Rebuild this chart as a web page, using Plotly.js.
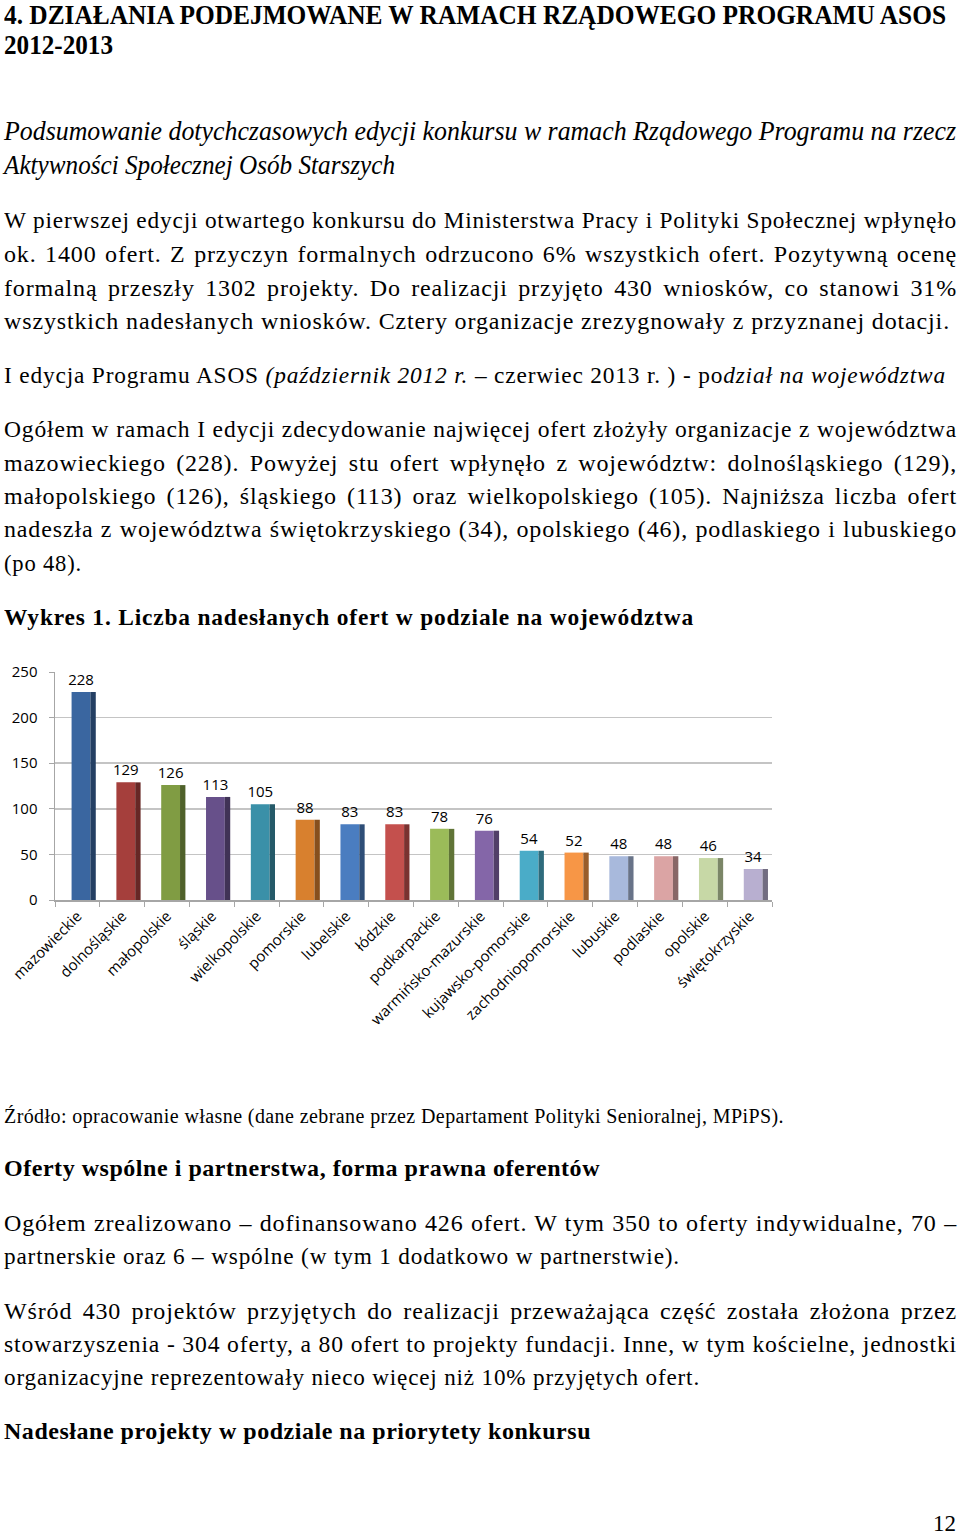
<!DOCTYPE html>
<html>
<head>
<meta charset="utf-8">
<script src="https://cdn.plot.ly/plotly-3.0.1.min.js"></script>
<style>
  html, body { margin:0; padding:0; background:#fff; }
  #page { position:relative; width:960px; height:1537px; overflow:hidden; background:#fff; }
  .ln { position:absolute; white-space:nowrap; line-height:1; color:#000;
        font-family:"Liberation Serif","Times New Roman",serif; transform-origin:0 0; display:inline-block; }
  .b { font-weight:bold; }
  .i { font-style:italic; }
  #chart { position:absolute; left:0; top:655px; width:960px; height:380px; }
</style>
</head>
<body>
<div id="page">
  <div class="ln b" data-x="4" data-y="15" data-w="942" data-fs="28" data-sq="1">4. DZIAŁANIA PODEJMOWANE W RAMACH RZĄDOWEGO PROGRAMU ASOS</div>
  <div class="ln b" data-x="4" data-y="45" data-w="109" data-fs="28" data-sq="1">2012-2013</div>
  <div class="ln i" data-x="4" data-y="131" data-w="952" data-fs="27" data-sq="1">Podsumowanie dotychczasowych edycji konkursu w ramach Rządowego Programu na rzecz</div>
  <div class="ln i" data-x="4" data-y="165" data-w="391" data-fs="27" data-sq="1">Aktywności Społecznej Osób Starszych</div>
  <div class="ln" data-x="4" data-y="220" data-w="953" data-fs="24" data-j="1">W pierwszej edycji otwartego konkursu do Ministerstwa Pracy i Polityki Społecznej wpłynęło</div>
  <div class="ln" data-x="4" data-y="254" data-w="953" data-fs="24" data-j="1">ok. 1400 ofert. Z przyczyn formalnych odrzucono 6% wszystkich ofert. Pozytywną ocenę</div>
  <div class="ln" data-x="4" data-y="288" data-w="953" data-fs="24" data-j="1">formalną przeszły 1302 projekty. Do realizacji przyjęto 430 wniosków, co stanowi 31%</div>
  <div class="ln" data-x="4" data-y="321" data-w="946" data-fs="24" id="refline">wszystkich nadesłanych wniosków. Cztery organizacje zrezygnowały z przyznanej dotacji.</div>
  <div class="ln" data-x="4" data-y="375" data-w="942" data-fs="24">I edycja Programu ASOS <span class="i">(październik 2012 r.</span> – czerwiec 2013 r. ) - po<span class="i">dział na województwa</span></div>
  <div class="ln" data-x="4" data-y="429" data-w="953" data-fs="24" data-j="1">Ogółem w ramach I edycji zdecydowanie najwięcej ofert złożyły organizacje z województwa</div>
  <div class="ln" data-x="4" data-y="463" data-w="953" data-fs="24" data-j="1">mazowieckiego (228). Powyżej stu ofert wpłynęło z województw: dolnośląskiego (129),</div>
  <div class="ln" data-x="4" data-y="496" data-w="953" data-fs="24" data-j="1">małopolskiego (126), śląskiego (113) oraz wielkopolskiego (105). Najniższa liczba ofert</div>
  <div class="ln" data-x="4" data-y="529" data-w="953" data-fs="24" data-j="1">nadeszła z województwa świętokrzyskiego (34), opolskiego (46), podlaskiego i lubuskiego</div>
  <div class="ln" data-x="4" data-y="563" data-w="78" data-fs="24">(po 48).</div>
  <div class="ln b" data-x="4" data-y="617" data-w="690" data-fs="24">Wykres 1. Liczba nadesłanych ofert w podziale na województwa</div>

  <div id="chart"></div>

  <div class="ln" data-x="4" data-y="1116" data-w="780" data-fs="20" data-sq="1">Źródło: opracowanie własne (dane zebrane przez Departament Polityki Senioralnej, MPiPS).</div>
  <div class="ln b" data-x="4" data-y="1168" data-w="596" data-fs="24" data-sq="1">Oferty wspólne i partnerstwa, forma prawna oferentów</div>
  <div class="ln" data-x="4" data-y="1223" data-w="953" data-fs="24" data-j="1">Ogółem zrealizowano – dofinansowano 426 ofert. W tym 350 to oferty indywidualne, 70 –</div>
  <div class="ln" data-x="4" data-y="1256" data-w="676" data-fs="24">partnerskie oraz 6 – wspólne (w tym 1 dodatkowo w partnerstwie).</div>
  <div class="ln" data-x="4" data-y="1311" data-w="953" data-fs="24" data-j="1">Wśród 430 projektów przyjętych do realizacji przeważająca część została złożona przez</div>
  <div class="ln" data-x="4" data-y="1344" data-w="953" data-fs="24" data-j="1">stowarzyszenia - 304 oferty, a 80 ofert to projekty fundacji. Inne, w tym kościelne, jednostki</div>
  <div class="ln" data-x="4" data-y="1377" data-w="696" data-fs="24">organizacyjne reprezentowały nieco więcej niż 10% przyjętych ofert.</div>
  <div class="ln b" data-x="4" data-y="1431" data-w="587" data-fs="24" data-sq="1">Nadesłane projekty w podziale na priorytety konkursu</div>
  <div class="ln" data-x="933" data-y="1523" data-w="23" data-fs="24" data-sq="1">12</div>
</div>

<script>
// ---- data ----
var regions = ["mazowieckie","dolnośląskie","małopolskie","śląskie","wielkopolskie","pomorskie",
  "lubelskie","łódzkie","podkarpackie","warmińsko-mazurskie","kujawsko-pomorskie",
  "zachodniopomorskie","lubuskie","podlaskie","opolskie","świętokrzyskie"];
var offers = [228,129,126,113,105,88,83,83,78,76,54,52,48,48,46,34];
var yTicks = [0,50,100,150,200,250];

// ---- styles ----
var barColors = ["#3a66a0","#a53f3c","#809c43","#67508a","#3a90a8","#d8802e","#4a7dc0","#c4504d",
  "#9bbb59","#8466a8","#4aacc8","#f79646","#a8b9dc","#dba4a4","#c7d8a6","#b8afd0"];
function darken(hex, f){
  var n = parseInt(hex.slice(1),16);
  var r = Math.round(((n>>16)&255)*f), g = Math.round(((n>>8)&255)*f), b = Math.round((n&255)*f);
  return "rgb("+r+","+g+","+b+")";
}
var sideColors = barColors.map(function(c){ return darken(c,0.62); });

// ---- text lines layout ----
var lines = Array.prototype.slice.call(document.querySelectorAll('.ln'));
lines.forEach(function(el){
  var fs = +el.dataset.fs;
  el.style.fontSize = fs + 'px';
  el.style.left = el.dataset.x + 'px';
  el.style.top = (+el.dataset.y - fs*0.5) + 'px';
});
var ref = document.getElementById('refline');
var refNat = ref.getBoundingClientRect().width;
var bodyLS = Math.max(0, (+ref.dataset.w - refNat) / ref.textContent.length);
lines.forEach(function(el){
  var w = +el.dataset.w;
  var n = el.textContent.length;
  if (el.dataset.sq) {
    var nat0 = el.getBoundingClientRect().width;
    if (nat0 > w) { el.style.transform = 'scaleX(' + (w / nat0) + ')'; }
    else { el.style.letterSpacing = ((w - nat0) / n) + 'px'; }
    return;
  }
  el.style.letterSpacing = bodyLS + 'px';
  var nat = el.getBoundingClientRect().width;
  if (el.dataset.j && nat < w) {
    var spaces = (el.textContent.match(/ /g) || []).length;
    if (spaces > 0) el.style.wordSpacing = ((w - nat) / spaces) + 'px';
  } else if (nat < w) {
    el.style.letterSpacing = (bodyLS + (w - nat) / n) + 'px';
  } else {
    el.style.transform = 'scaleX(' + (w / nat) + ')';
  }
});

// ---- chart ----
var front = {
  type: 'bar', x: regions, y: offers,
  marker: { color: barColors, line: { width: 0 } },
  width: 0.42, offset: -0.13,
  text: offers.map(String), textposition: 'outside', cliponaxis: false,
  constraintext: 'none',
  textfont: { family: 'Open Sans', size: 15, color: '#000' },
  hoverinfo: 'x+y', showlegend: false
};
var side = {
  type: 'bar', x: regions, y: offers,
  marker: { color: sideColors, line: { width: 0 } },
  width: 0.12, offset: 0.29,
  hoverinfo: 'skip', showlegend: false
};
var layout = {
  width: 960, height: 380,
  margin: { l: 55, r: 188, t: 17, b: 135 },
  paper_bgcolor: '#fff', plot_bgcolor: '#fff',
  barmode: 'overlay',
  font: { family: 'Open Sans', size: 15, color: '#000' },
  xaxis: {
    type: 'category', tickangle: -45, tickson: 'boundaries',
    ticks: 'outside', ticklen: 5, tickcolor: '#a6a6a6',
    showline: true, linecolor: '#a6a6a6', linewidth: 1.5,
    showgrid: false, tickfont: { family: 'Open Sans', size: 15, color: '#000' }
  },
  yaxis: {
    range: [0, 250], tickvals: yTicks, ticktext: yTicks.map(String),
    ticks: 'outside', ticklen: 5, tickcolor: '#a6a6a6',
    showline: true, linecolor: '#a6a6a6', linewidth: 1.5,
    showgrid: true, gridcolor: '#c4c4c4', gridwidth: 1.5,
    zeroline: false, ticklabelstandoff: 8,
    tickfont: { family: 'Open Sans', size: 15, color: '#000' }
  }
};
Plotly.newPlot('chart', [front, side], layout, { displayModeBar: false, staticPlot: true });
</script>
</body>
</html>
